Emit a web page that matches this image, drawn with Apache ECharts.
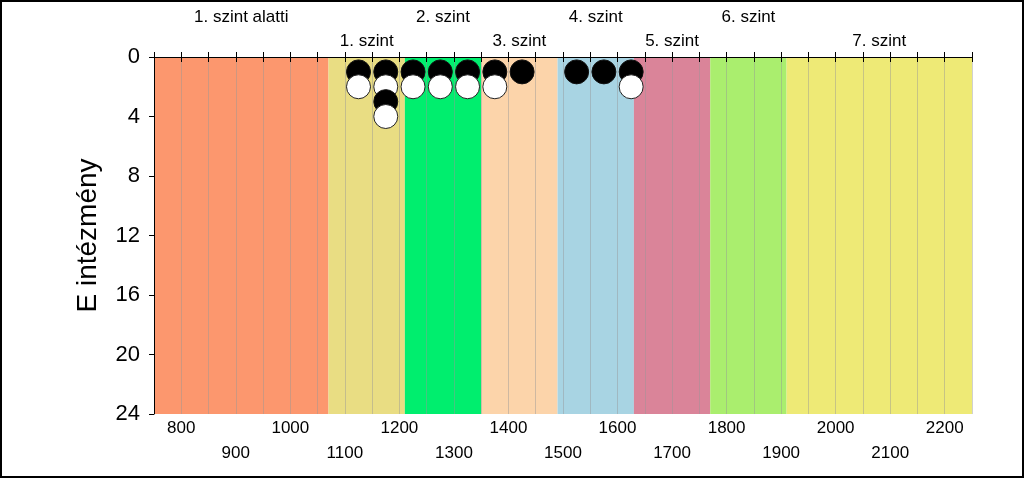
<!DOCTYPE html>
<html>
<head>
<meta charset="utf-8">
<script src="https://cdn.jsdelivr.net/npm/echarts@6/dist/echarts.min.js"></script>
<style>
html,body{margin:0;padding:0;background:#fff;}
#chart{width:1024px;height:478px;}
</style>
</head>
<body>
<div id="chart"></div>
<script>
// ---- data ----
const xMin = 750, xMax = 2250, xStep = 50;
const yTicks = [0, 4, 8, 12, 16, 20, 24];
const bandNames = ['1. szint alatti', '1. szint', '2. szint', '3. szint', '4. szint', '5. szint', '6. szint', '7. szint'];
const bandEdges = [750, 1070, 1210, 1350, 1490, 1630, 1770, 1910, 2250];
const blackX = [1125, 1175, 1225, 1275, 1325, 1375, 1425, 1525, 1575, 1625, 1175];
const blackY = [1, 1, 1, 1, 1, 1, 1, 1, 1, 1, 3];
const whiteX = [1125, 1175, 1225, 1275, 1325, 1375, 1625, 1175];
const whiteY = [2, 2, 2, 2, 2, 2, 2, 4];

// ---- styles ----
const bandColors = ['#FC976E', '#E9DD83', '#00EE6E', '#FCD4AA', '#A8D4E3', '#DA8499', '#AAEE6E', '#EEEA76'];
const FONT = 'Liberation Sans, Arial, sans-serif';

const bandData = bandNames.map((n, i) => [bandEdges[i], bandEdges[i + 1], i]);

const pts = [];
blackX.forEach((x, i) => pts.push({ value: [x, blackY[i]], itemStyle: { color: '#000', borderColor: '#111', borderWidth: 1, opacity: 1 } }));
whiteX.forEach((x, i) => pts.push({ value: [x, whiteY[i]], itemStyle: { color: '#fff', borderColor: '#222', borderWidth: 1, opacity: 1 } }));
pts.sort((a, b) => a.value[1] - b.value[1]);

const chart = echarts.init(document.getElementById('chart'));
const xAxisCommon = {
  type: 'value', min: xMin, max: xMax, interval: xStep, z: 1,
  axisLine: { show: true, lineStyle: { color: '#000', width: 1 } },
  axisTick: { show: true, length: 5, lineStyle: { color: '#000' } },
  splitLine: { show: false }
};
chart.setOption({
  animation: false,
  backgroundColor: '#fff',
  grid: { left: 154, right: 52, top: 57, bottom: 64 },
  graphic: [{
    type: 'rect', z: 100, silent: true,
    shape: { x: 1, y: 1, width: 1022, height: 476 },
    style: { fill: 'none', stroke: '#000', lineWidth: 2 }
  }],
  xAxis: [
    Object.assign({}, xAxisCommon, {
      position: 'bottom',
      splitLine: { show: true, lineStyle: { color: 'rgba(150,150,150,0.45)', width: 1 } },
      axisLabel: {
        show: true, margin: 2, fontSize: 17, lineHeight: 25, color: '#000', fontFamily: FONT,
        formatter: v => (v % 200 === 0 ? String(v) : (v % 100 === 0 ? '\n' + v : ''))
      }
    }),
    Object.assign({}, xAxisCommon, { position: 'top', axisLabel: { show: false } })
  ],
  yAxis: {
    type: 'value', inverse: true, min: 0, max: 24, interval: 4, z: 1,
    name: 'E intézmény', nameLocation: 'middle', nameGap: 52,
    nameTextStyle: { fontSize: 28, color: '#000', fontFamily: FONT },
    axisLine: { show: true, lineStyle: { color: '#000' } },
    axisTick: { show: true, length: 5, lineStyle: { color: '#000' } },
    axisLabel: { fontSize: 22, color: '#000', margin: 14, fontFamily: FONT },
    splitLine: { show: false }
  },
  series: [
    {
      type: 'custom', z: 0, silent: true,
      data: bandData,
      encode: { x: [0, 1], y: 2 },
      renderItem: function (params, api) {
        const s = api.value(0), e = api.value(1), i = api.value(2);
        const p0 = api.coord([s, 0]);
        const p1 = api.coord([e, 0]);
        const cs = params.coordSys;
        return {
          type: 'group',
          children: [
            { type: 'rect', shape: { x: p0[0], y: cs.y, width: p1[0] - p0[0], height: cs.height }, style: { fill: bandColors[i] } },
            { type: 'text', x: (p0[0] + p1[0]) / 2, y: cs.y - (i % 2 === 0 ? 40 : 16),
              style: { text: bandNames[i], textAlign: 'center', textVerticalAlign: 'middle', fontSize: 17, fontFamily: FONT, fill: '#000' } }
          ]
        };
      }
    },
    {
      type: 'scatter', z: 5, symbol: 'circle', symbolSize: 24,
      itemStyle: { opacity: 1 },
      data: pts
    }
  ]
});
</script>
</body>
</html>
